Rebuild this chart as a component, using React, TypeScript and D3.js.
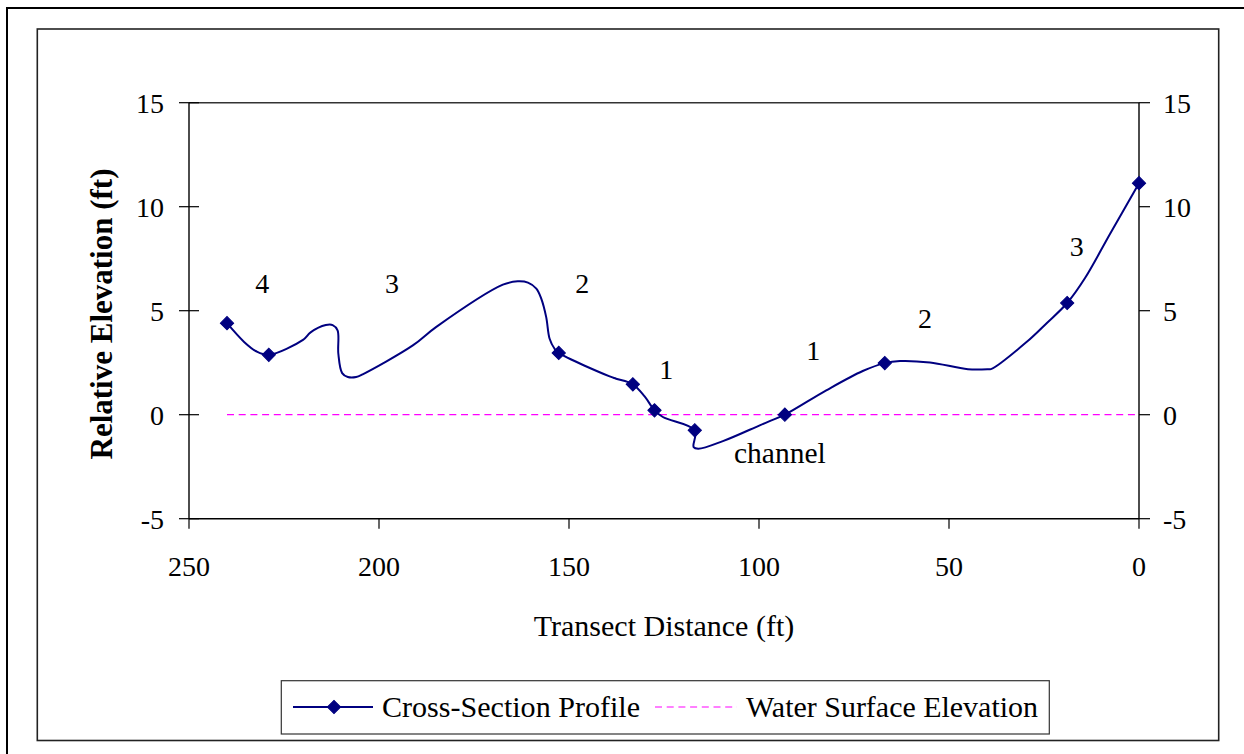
import React from "react";
import { scaleLinear, line, curveCatmullRom, symbol, symbolSquare } from "d3";

const profileDist = [
  240, 235.5, 232.3, 229, 220, 218, 214, 212.2, 210.9, 210.7, 209.7, 208.2, 206, 204.3,
  191.1, 185, 167.4, 163.5, 160.8, 158.6, 157.3, 156, 155.1, 153.8, 152.7, 139.3, 137.6,
  133.2, 130.1, 127.5, 125.3, 116.9, 117.2, 116, 109.5, 99.8, 97.2, 93.2, 82.3, 72.7,
  66.9, 62.9, 55, 45, 39.5, 38.8, 29.6, 24.3, 18.9, 14.2, 7.6, 0,
];
const profileElev = [
  4.4, 3.5, 3.05, 2.88, 3.6, 3.96, 4.31, 4.31, 4.05, 2.93, 2.0, 1.81, 1.81, 1.94,
  3.33, 4.21, 6.25, 6.41, 6.35, 6.06, 5.58, 4.69, 3.65, 3.17, 2.97, 1.84, 1.73,
  1.46, 0.88, 0.21, -0.11, -0.75, -1.56, -1.64, -1.27, -0.51, -0.31, 0.0, 1.17, 2.1,
  2.48, 2.58, 2.51, 2.19, 2.19, 2.2, 3.49, 4.4, 5.37, 6.57, 8.7, 11.13,
];

// stations shown with a marker
const stationDist = [240, 229, 152.7, 133.2, 127.5, 116.9, 93.2, 66.9, 18.9, 0];
const stationElev = [4.4, 2.88, 2.97, 1.46, 0.21, -0.75, 0.0, 2.48, 5.37, 11.13];

// water surface
const waterDist = [240, 0];
const waterElev = [0, 0];

// zone annotations
const zoneText = ["4", "3", "2", "1", "1", "2", "3", "channel"];
const zoneDist = [230.7, 196.6, 146.5, 124.4, 85.7, 56.3, 16.4, 94.5];
const zoneElev = [5.85, 5.85, 5.85, 1.73, 2.61, 4.18, 7.63, -2.34];

const xTicks = [250, 200, 150, 100, 50, 0];
const yTicks = [15, 10, 5, 0, -5];

const W = 1244;
const H = 754;
const left = 189;
const right = 1139;
const top = 102.7;
const bottom = 518.7;

const navy = "#000080";
const magenta = "#FF00FF";
const font = "'Liberation Serif', Tinos, 'Times New Roman', 'DejaVu Serif', serif";

export default function App() {
  const x = scaleLinear().domain([250, 0]).range([left, right]);
  const y = scaleLinear().domain([-5, 15]).range([bottom, top]);

  const profile = profileDist.map((d, i) => [d, profileElev[i]] as [number, number]);
  const path = line<[number, number]>()
    .x((d) => x(d[0]))
    .y((d) => y(d[1]))
    .curve(curveCatmullRom.alpha(0.5))(profile);

  const water = line<number>()
    .x((d) => x(d))
    .y((_, i) => y(waterElev[i]))(waterDist);

  // rotated square = Excel's diamond marker
  const diamond = symbol().type(symbolSquare).size(88)() as string;

  const txt = { fontFamily: font };

  return (
    <svg
      width={W}
      height={H}
      style={{ position: "absolute", left: 0, top: 0, background: "#fff", fontFamily: font }}
    >
      {/* outer + inner frames */}
      <rect x={7} y={8} width={W + 20} height={H + 20} fill="#fff" stroke="#000" strokeWidth={2} />
      <rect x={37.3} y={29} width={1218.7 - 37.3} height={740.5 - 29} fill="#fff" stroke="#222" strokeWidth={1.6} />

      {/* plot box */}
      <line x1={left} x2={right} y1={top} y2={top} stroke="#333" strokeWidth={1.4} />
      <line x1={left} x2={right} y1={bottom} y2={bottom} stroke="#000" strokeWidth={1.6} />
      <line x1={left} x2={left} y1={top} y2={bottom} stroke="#000" strokeWidth={1.4} />
      <line x1={right} x2={right} y1={top} y2={bottom} stroke="#000" strokeWidth={1.4} />

      {/* y ticks, both sides */}
      {yTicks.map((t) => (
        <g key={t}>
          <line x1={left - 10} x2={left + 10} y1={y(t)} y2={y(t)} stroke="#000" strokeWidth={1.2} />
          <line x1={right} x2={right + 11} y1={y(t)} y2={y(t)} stroke="#000" strokeWidth={1.2} />
          <text x={164} y={y(t)} dy="0.35em" textAnchor="end" fontSize={28} style={txt}>
            {t}
          </text>
          <text x={1163} y={y(t)} dy="0.35em" textAnchor="start" fontSize={28} style={txt}>
            {t}
          </text>
        </g>
      ))}

      {/* x ticks */}
      {xTicks.map((t) => (
        <g key={t}>
          <line x1={x(t)} x2={x(t)} y1={bottom} y2={bottom + 10} stroke="#000" strokeWidth={1.2} />
          <text x={x(t)} y={576} textAnchor="middle" fontSize={28} style={txt}>
            {t}
          </text>
        </g>
      ))}

      {/* axis titles */}
      <text x={664} y={636} textAnchor="middle" fontSize={30} style={txt}>
        Transect Distance (ft)
      </text>
      <text
        transform="translate(112,314) rotate(-90)"
        textAnchor="middle"
        fontSize={31}
        fontWeight="bold"
        style={txt}
      >
        Relative Elevation (ft)
      </text>

      {/* water surface */}
      <path d={water ?? ""} stroke={magenta} strokeWidth={1.2} strokeDasharray="7,4.7" fill="none" />

      {/* profile */}
      <path d={path ?? ""} stroke={navy} strokeWidth={2} fill="none" strokeLinejoin="round" />
      {stationDist.map((d, i) => (
        <path
          key={i}
          d={diamond}
          transform={`translate(${x(d)},${y(stationElev[i])}) rotate(45)`}
          fill={navy}
          stroke={navy}
          strokeWidth={1}
        />
      ))}

      {/* zone labels */}
      {zoneText.map((t, i) => (
        <text
          key={i}
          x={x(zoneDist[i])}
          y={y(zoneElev[i])}
          textAnchor="middle"
          fontSize={i === zoneText.length - 1 ? 29.5 : 28}
          style={txt}
        >
          {t}
        </text>
      ))}

      {/* legend */}
      <g>
        <rect x={281.3} y={680.7} width={1049.3 - 281.3} height={734 - 680.7} fill="#fff" stroke="#333" strokeWidth={1.2} />
        <line x1={293} x2={373} y1={707} y2={707} stroke={navy} strokeWidth={2} />
        <path d={diamond} transform="translate(334,707) rotate(45)" fill={navy} stroke={navy} />
        <text x={382} y={717} fontSize={30} textLength={258} lengthAdjust="spacingAndGlyphs" style={txt}>
          Cross-Section Profile
        </text>
        <line x1={655} x2={737} y1={707} y2={707} stroke={magenta} strokeWidth={1.2} strokeDasharray="7,4.7" />
        <text x={746} y={717} fontSize={30} textLength={292} lengthAdjust="spacingAndGlyphs" style={txt}>
          Water Surface Elevation
        </text>
      </g>
    </svg>
  );
}
